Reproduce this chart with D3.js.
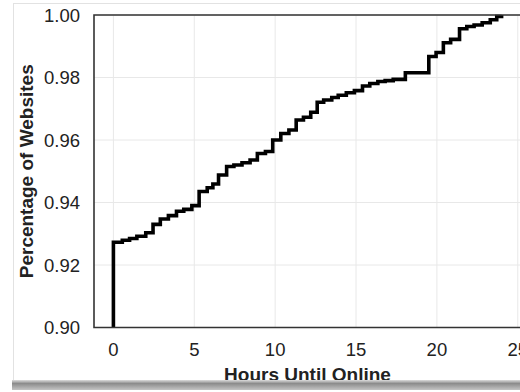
<!DOCTYPE html>
<html lang="en">
<head>
    <meta charset="UTF-8">
    <title>Hours Until Online</title>
    <script src="https://d3js.org/d3.v7.min.js"></script>
    <style>
        body { margin: 0; background: #fff; }
        svg { display: block; }
        .tick-label { font-family: "Liberation Sans", Arial, sans-serif; font-size: 18.5px; fill: #222; }
        .axis-title { font-family: "Liberation Sans", Arial, sans-serif; font-size: 19px; font-weight: bold; fill: #222; }
        .grid line { stroke: #e8e8e8; stroke-width: 1; }
        .ecdf-line { fill: none; stroke: #000; stroke-width: 3.6; stroke-linejoin: miter; }
    </style>
</head>
<body>
<div id="chart-container"></div>
<script>
// step points (hours, share of websites online)
const hours = [0, 0, 0.55, 1.0, 1.45, 2.0, 2.45, 2.9, 3.4, 3.9, 4.35, 4.85, 5.3, 5.8, 6.15, 6.5,
    7.0, 7.45, 7.95, 8.45, 8.9, 9.4, 9.85, 10.35, 10.85, 11.3, 11.75, 12.2, 12.6, 13.0, 13.5,
    13.9, 14.4, 14.9, 15.4, 15.85, 16.35, 16.8, 17.3, 18.05, 19.5, 19.95, 20.4, 20.85, 21.4,
    21.85, 22.3, 22.8, 23.3, 23.7, 24.0];
const shares = [0.90, 0.9273, 0.9279, 0.9285, 0.9292, 0.9303, 0.9330, 0.9347, 0.9358, 0.9372,
    0.9378, 0.9390, 0.9435, 0.9447, 0.9459, 0.9488, 0.9515, 0.9520, 0.9527, 0.9536, 0.9557,
    0.9563, 0.9600, 0.9621, 0.9632, 0.9664, 0.9673, 0.9689, 0.9721, 0.9728, 0.9736, 0.9743,
    0.9751, 0.9758, 0.9773, 0.9781, 0.9787, 0.9790, 0.9794, 0.9815, 0.9867, 0.9880, 0.9911,
    0.9922, 0.9956, 0.9963, 0.9968, 0.9975, 0.9985, 0.9995, 1.0];

const xTicks = [0, 5, 10, 15, 20, 25];
const yTicks = [0.90, 0.92, 0.94, 0.96, 0.98, 1.00];

const W = 520, H = 392;
const plot = { left: 94, top: 15, right: 521, bottom: 327.5 };

const svg = d3.select('#chart-container')
    .append('svg')
    .attr('width', W)
    .attr('height', H);

// the screenshot frame
svg.append('rect')
    .attr('x', 13.5).attr('y', 3.5)
    .attr('width', W).attr('height', 380)
    .attr('fill', '#fff')
    .attr('stroke', '#e2e2e2');

const x = d3.scaleLinear().domain([-1.2, 25.2]).range([plot.left, plot.right]);
const y = d3.scaleLinear().domain([0.90, 1.00]).range([plot.bottom, plot.top]);

svg.append('clipPath').attr('id', 'plot-clip')
    .append('rect')
    .attr('x', plot.left).attr('y', plot.top - 2)
    .attr('width', plot.right - plot.left).attr('height', plot.bottom - plot.top + 2);

// grid
const grid = svg.append('g').attr('class', 'grid');
grid.selectAll('.vx').data(xTicks).enter().append('line')
    .attr('x1', d => x(d)).attr('x2', d => x(d))
    .attr('y1', plot.top).attr('y2', plot.bottom);
grid.selectAll('.hy').data(yTicks).enter().append('line')
    .attr('x1', plot.left).attr('x2', plot.right)
    .attr('y1', d => y(d)).attr('y2', d => y(d));

// ECDF step line
const points = hours.map((h, i) => [h, shares[i]]);
svg.append('path')
    .datum(points)
    .attr('class', 'ecdf-line')
    .attr('clip-path', 'url(#plot-clip)')
    .attr('d', d3.line()
        .x(d => x(d[0]))
        .y(d => y(d[1]))
        .curve(d3.curveStepAfter));

// frame: top, left, bottom
svg.append('path')
    .attr('d', `M${plot.right},${plot.top}H${plot.left}V${plot.bottom}H${plot.right}`)
    .attr('fill', 'none')
    .attr('stroke', '#333')
    .attr('stroke-width', 1.6);

// tick labels
svg.selectAll('.xt').data(xTicks).enter().append('text')
    .attr('class', 'tick-label')
    .attr('x', d => x(d))
    .attr('y', 356)
    .attr('text-anchor', 'middle')
    .text(d => d);

svg.selectAll('.yt').data(yTicks).enter().append('text')
    .attr('class', 'tick-label')
    .attr('x', 80)
    .attr('y', d => y(d) + 6.5)
    .attr('text-anchor', 'end')
    .text(d => d3.format('.2f')(d));

// axis titles
svg.append('text')
    .attr('class', 'axis-title')
    .attr('x', (plot.left + plot.right) / 2)
    .attr('y', 381)
    .attr('text-anchor', 'middle')
    .text('Hours Until Online');

svg.append('text')
    .attr('class', 'axis-title')
    .attr('transform', `translate(33, ${(plot.top + plot.bottom) / 2}) rotate(-90)`)
    .attr('text-anchor', 'middle')
    .text('Percentage of Websites');

// drop shadow along the bottom of the screenshot
const grad = svg.append('defs').append('linearGradient')
    .attr('id', 'shadow').attr('x1', 0).attr('x2', 0).attr('y1', 0).attr('y2', 1);
grad.append('stop').attr('offset', '0%').attr('stop-color', '#dcdcdc');
grad.append('stop').attr('offset', '35%').attr('stop-color', '#8c8c8c');
grad.append('stop').attr('offset', '100%').attr('stop-color', '#c4c4c4');

svg.append('rect')
    .attr('x', 12).attr('y', 380)
    .attr('width', W - 12).attr('height', 10)
    .attr('fill', 'url(#shadow)');
</script>
</body>
</html>
